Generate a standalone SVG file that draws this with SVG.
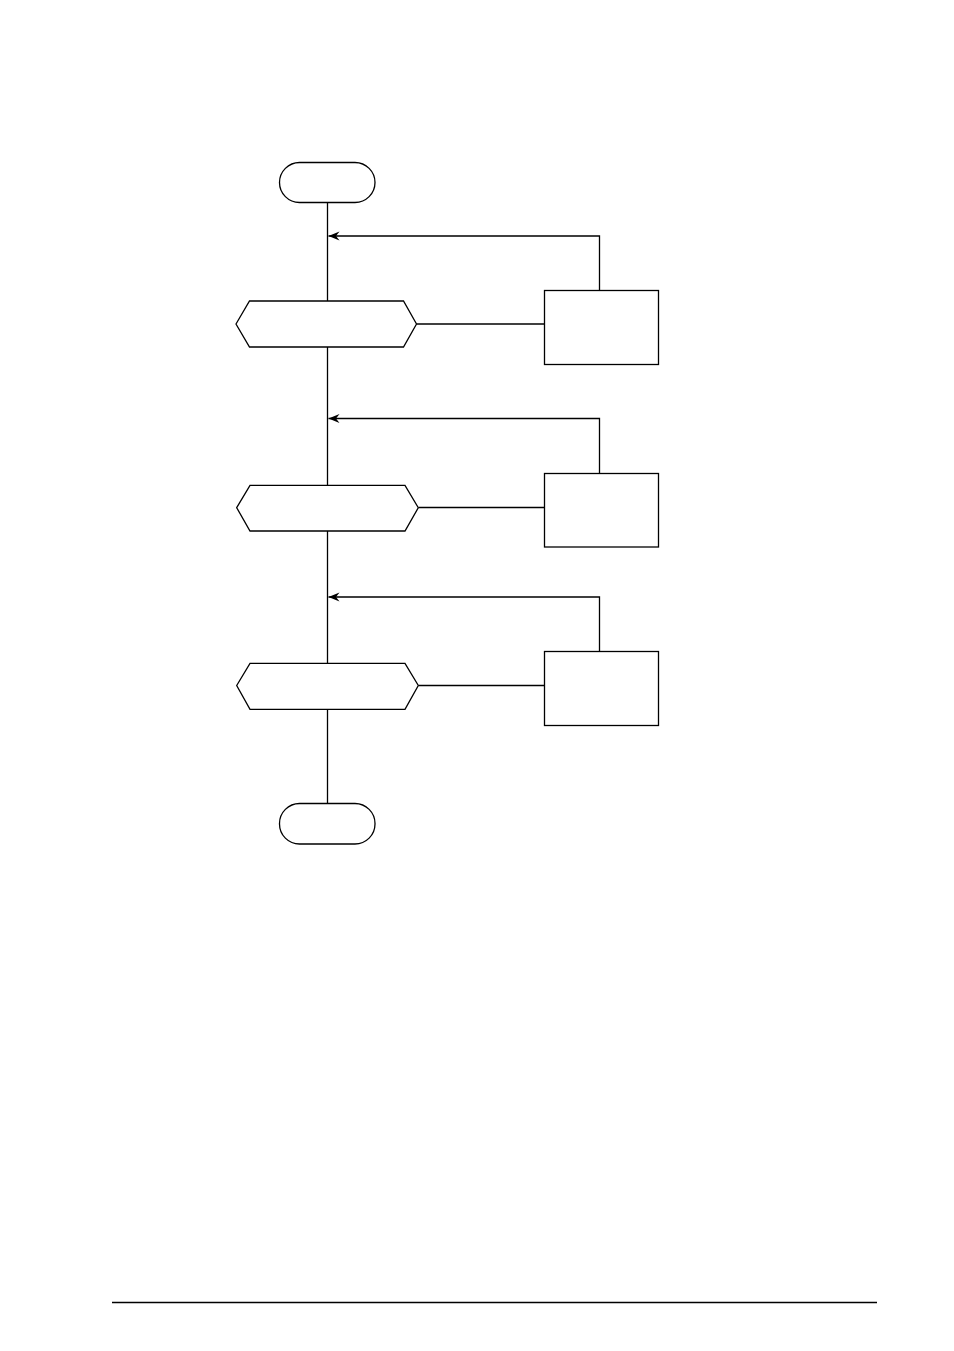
<svg xmlns="http://www.w3.org/2000/svg" width="954" height="1351" viewBox="0 0 954 1351">
<style>
.s{fill:#fff;stroke:#000;stroke-width:1.3}
.c{fill:none;stroke:#000;stroke-width:1.3}
</style>
<defs>
<marker id="ah" markerUnits="userSpaceOnUse" markerWidth="14" markerHeight="10" viewBox="0 0 14 10" refX="11" refY="5" orient="auto">
<path d="M11,5 L0,0.5 L3.5,5 L0,9.5 Z" fill="#000"/>
</marker>
</defs>
<rect width="954" height="1351" fill="#fff"/>
<g id="connectors">
<path class="c" d="M327.5,202.5 V301"/>
<path class="c" d="M599.5,290.5 V236 H328.5" marker-end="url(#ah)"/>
<path class="c" d="M416.5,324 H544.5"/>
<path class="c" d="M327.5,347 V485.5"/>
<path class="c" d="M599.5,473.5 V418.5 H328.5" marker-end="url(#ah)"/>
<path class="c" d="M418.5,507.5 H544.5"/>
<path class="c" d="M327.5,531 V663.5"/>
<path class="c" d="M599.5,651.5 V597 H328.5" marker-end="url(#ah)"/>
<path class="c" d="M418.5,685.5 H544.5"/>
<path class="c" d="M327.5,709.5 V803.5"/>
</g>
<g id="start"><rect class="s" x="279.5" y="162.5" width="95.5" height="40" rx="20"/></g>
<g id="decision1"><polygon class="s" points="236,324 249.5,301 403.5,301 416.5,324 403.5,347 249.5,347"/></g>
<g id="process1"><rect class="s" x="544.5" y="290.5" width="114" height="74"/></g>
<g id="decision2"><polygon class="s" points="236.7,507.7 250,485.3 405,485.3 418.3,507.7 405,531 250,531"/></g>
<g id="process2"><rect class="s" x="544.5" y="473.5" width="114" height="73.5"/></g>
<g id="decision3"><polygon class="s" points="236.7,685.5 250,663.3 405,663.3 418.3,685.5 405,709.3 250,709.3"/></g>
<g id="process3"><rect class="s" x="544.5" y="651.5" width="114" height="74"/></g>
<g id="end"><rect class="s" x="279.5" y="803.5" width="95.5" height="40.5" rx="20"/></g>
<line x1="112" y1="1302.5" x2="877" y2="1302.5" stroke="#000" stroke-width="1.3"/>
</svg>
